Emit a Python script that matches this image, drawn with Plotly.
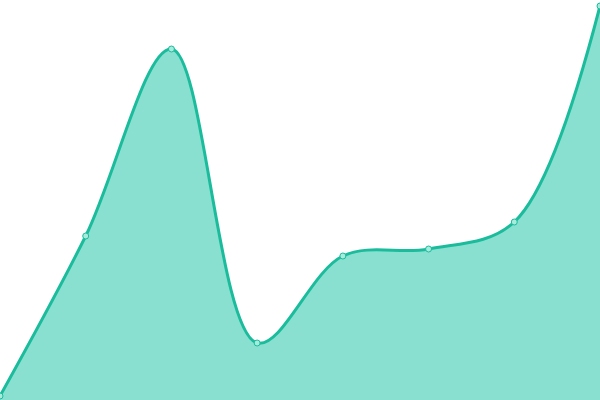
import plotly.graph_objects as go

x_vals = [0, 1, 2, 3, 4, 5, 6, 7]
y_vals = [4, 164, 351, 57, 144, 151, 178, 394]

fig = go.Figure()
fig.add_trace(go.Scatter(
    x=x_vals, y=y_vals,
    mode="lines+markers",
    fill="tozeroy",
    fillcolor="#8ae0d0",
    line=dict(color="#1abc9c", width=3, shape="spline", smoothing=1.0),
    marker=dict(size=6, color="#a6ebdc", line=dict(color="#1abc9c", width=1)),
    hoverinfo="skip",
))
fig.update_layout(
    width=600, height=400,
    margin=dict(l=0, r=0, t=0, b=0),
    paper_bgcolor="white", plot_bgcolor="white",
    showlegend=False,
    xaxis=dict(visible=False, range=[0, 7]),
    yaxis=dict(visible=False, range=[0, 400]),
)
# drop the default 8px body margin so the plot fills the window
fix_body = "document.body.style.margin='0';document.body.style.overflow='hidden';"
fig.write_html("out.html", config={"displayModeBar": False}, post_script=fix_body)
